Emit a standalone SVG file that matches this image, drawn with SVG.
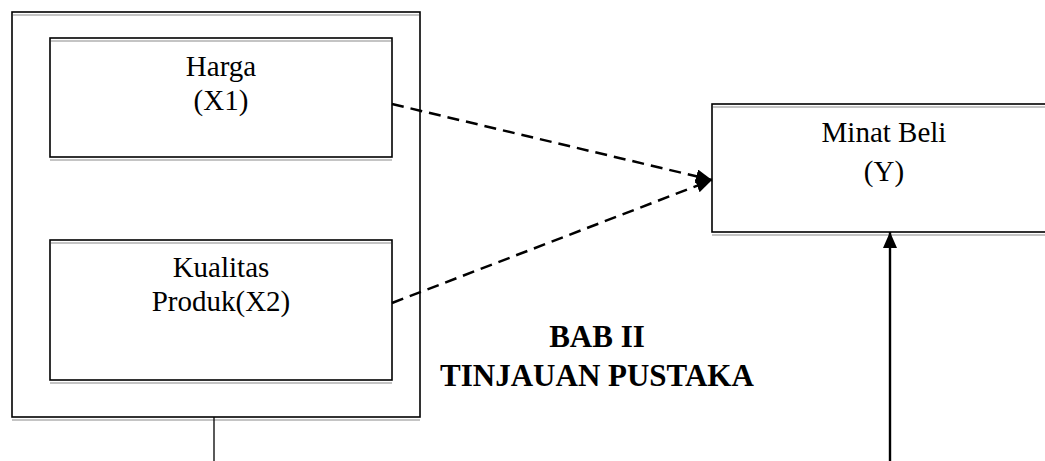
<svg xmlns="http://www.w3.org/2000/svg" width="1045" height="461" viewBox="0 0 1045 461">
  <defs>
    <style>
      .box { fill: #ffffff; stroke: #000000; stroke-width: 1.6; }
      .shadow { stroke: #b0b0b0; stroke-width: 1.5; fill: none; }
      .lbl { font-family: "Liberation Serif", "Times New Roman", serif; font-size: 29px; fill: #000000; text-anchor: middle; }
      .title { font-family: "Liberation Serif", "Times New Roman", serif; font-size: 31px; font-weight: bold; fill: #000000; text-anchor: middle; }
      .dash { stroke: #000000; stroke-width: 2.5; stroke-dasharray: 12 7; fill: none; }
      .solid { stroke: #000000; stroke-width: 2.4; fill: none; }
      .thin { stroke: #000000; stroke-width: 1.3; fill: none; }
    </style>
    <marker id="arrow" viewBox="0 0 16 14" refX="16" refY="7" markerWidth="16" markerHeight="14" markerUnits="userSpaceOnUse" orient="auto">
      <path d="M0,0 L16,7 L0,14 Z" fill="#000000"/>
    </marker>
  </defs>
  <rect width="1045" height="461" fill="#ffffff"/>

  <g id="outer">
    <rect class="box" x="12" y="12" width="408" height="405"/>
    <line class="shadow" x1="13" y1="15" x2="419" y2="15"/>
    <line class="shadow" x1="12" y1="420" x2="420" y2="420"/>
  </g>

  <g id="harga">
    <rect class="box" x="50" y="38" width="342" height="119"/>
    <line class="shadow" x1="51" y1="41" x2="391" y2="41"/>
    <line class="shadow" x1="50" y1="160" x2="392" y2="160"/>
    <text class="lbl" x="221" y="76">Harga</text>
    <text class="lbl" x="221" y="110">(X1)</text>
  </g>

  <g id="kualitas">
    <rect class="box" x="50" y="240" width="342" height="140"/>
    <line class="shadow" x1="51" y1="243" x2="391" y2="243"/>
    <line class="shadow" x1="50" y1="383" x2="392" y2="383"/>
    <text class="lbl" x="221" y="277">Kualitas</text>
    <text class="lbl" x="221" y="311">Produk(X2)</text>
  </g>

  <g id="minat">
    <rect class="box" x="712" y="104" width="345" height="128"/>
    <line class="shadow" x1="713" y1="107" x2="1045" y2="107"/>
    <line class="shadow" x1="712" y1="235" x2="1045" y2="235"/>
    <text class="lbl" x="884" y="142">Minat Beli</text>
    <text class="lbl" x="884" y="181">(Y)</text>
  </g>

  <g id="title">
    <text class="title" x="597" y="347">BAB II</text>
    <text class="title" x="597" y="386">TINJAUAN PUSTAKA</text>
  </g>

  <g id="connectors">
    <line class="dash" x1="392" y1="104" x2="712" y2="180" marker-end="url(#arrow)"/>
    <line class="dash" x1="392" y1="303" x2="712" y2="180" marker-end="url(#arrow)"/>
    <line class="solid" x1="890" y1="461" x2="890" y2="232" marker-end="url(#arrow)"/>
    <line class="thin" x1="214" y1="417" x2="214" y2="461"/>
  </g>
</svg>
